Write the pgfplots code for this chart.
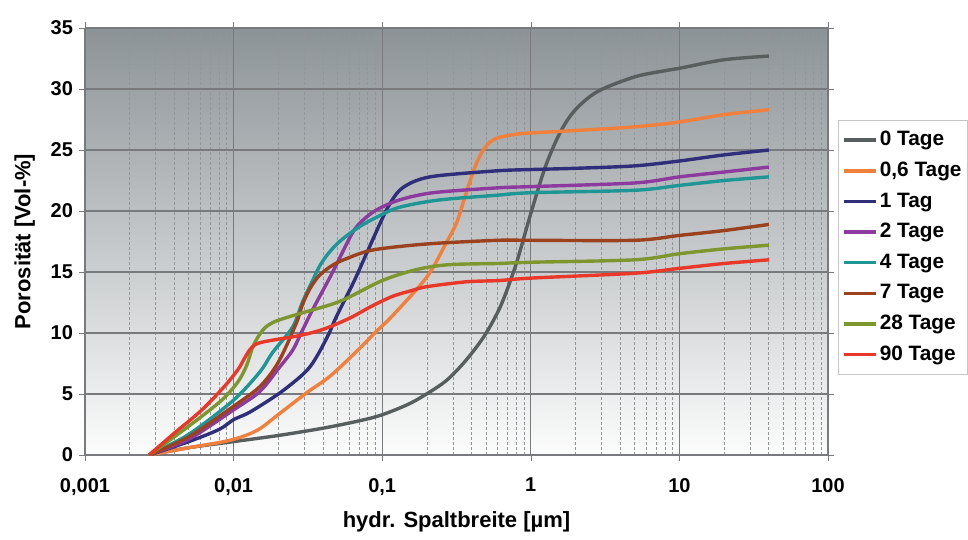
\documentclass[border=0pt]{standalone}
\usepackage{pgfplots}
\pgfplotsset{compat=1.18}
\usepackage{fontspec}
\setmainfont{Liberation Sans}

\definecolor{c0}{RGB}{88,94,94}
\definecolor{c06}{RGB}{240,128,60}
\definecolor{c1}{RGB}{46,46,122}
\definecolor{c2}{RGB}{140,58,158}
\definecolor{c4}{RGB}{30,150,150}
\definecolor{c7}{RGB}{155,65,30}
\definecolor{c28}{RGB}{125,150,45}
\definecolor{c90}{RGB}{232,56,42}
\definecolor{bgtop}{RGB}{140,147,151}
\definecolor{bgmid}{RGB}{208,212,215}
\definecolor{bgbot}{RGB}{252,252,252}
\definecolor{gridc}{RGB}{120,122,126}

\begin{document}
\begin{tikzpicture}
\begin{axis}[
  width=371.5pt, height=213.5pt, scale only axis,
  xmode=log, xmin=0.001, xmax=100, ymin=0, ymax=35,
  xtick={0.001,0.01,0.1,1,10,100},
  xticklabels={{0,001},{0,01},{0,1},1,10,100},
  ytick={0,5,...,35},
  xmajorgrids=true, ymajorgrids=true, xminorgrids=true,
  major grid style={gridc, line width=0.6pt},
  minor grid style={gridc!80, line width=0.4pt, dash pattern=on 1.5pt off 1pt},
  axis line style={gridc},
  tick align=outside, major tick length=3pt, minor tick length=0pt,
  tick style={gridc},
  axis background/.style={top color=bgtop, middle color=bgmid, bottom color=bgbot},
  ticklabel style={font=\bfseries\fontsize{10}{12}\selectfont},
  /pgf/number format/assume math mode=true,
  xticklabel style={yshift=-5pt},
  yticklabel style={xshift=0.5pt},
  xlabel={hydr. Spaltbreite [µm]},
  ylabel={Porosität [Vol-\%]},
  label style={font=\bfseries\fontsize{11}{13}\selectfont},
  xlabel style={at={(axis description cs:0.5,-0.157)}, anchor=center},
  ylabel style={at={(axis description cs:-0.081,0.5)}, anchor=center},
  legend style={at={(1.0135,0.7845)}, anchor=north west, draw=gray!45,
    fill=white, font=\bfseries\fontsize{10.4}{12}\selectfont,
    row sep=2.6pt, inner xsep=2pt, inner ysep=3.5pt,
    nodes={inner xsep=1pt, inner ysep=2pt}},
  legend cell align=left,
  legend image code/.code={\draw[#1] (0pt,0pt) -- (16pt,0pt);},
  every axis plot/.append style={line width=1.7pt, smooth, tension=0.5},
]
\addplot[c0] coordinates {
(0.0027,0) (0.005,0.6) (0.01,1.1) (0.02,1.6) (0.04,2.2) (0.07,2.8) (0.1,3.3)
(0.158,4.3) (0.251,5.8) (0.316,6.9) (0.398,8.3) (0.501,10.0) (0.631,12.3)
(0.794,15.6) (1,19.8) (1.259,23.7) (1.585,26.5) (1.995,28.3) (2.818,29.8)
(5.01,31.0) (8,31.5) (10,31.7) (20,32.4) (40,32.7)};
\addlegendentry{0 Tage}
\addplot[c06] coordinates {
(0.0027,0) (0.005,0.6) (0.0094,1.2) (0.0143,2.0) (0.0204,3.4) (0.031,5.1)
(0.045,6.5) (0.07,8.7) (0.089,10.0) (0.117,11.4) (0.2,14.6) (0.27,17.4)
(0.316,19.0) (0.355,20.9) (0.389,22.4) (0.427,23.8) (0.468,24.8) (0.525,25.6)
(0.603,26.0) (0.794,26.3) (1,26.4) (2,26.6) (5,26.9) (10,27.3) (20,27.9)
(40,28.3)};
\addlegendentry{0,6 Tage}
\addplot[c1] coordinates {
(0.0027,0) (0.005,1.1) (0.008,2.1) (0.01,2.9) (0.0128,3.5) (0.02,5.0)
(0.028,6.4) (0.033,7.3) (0.038,8.5) (0.044,10.0) (0.049,11.3) (0.065,14.3)
(0.079,16.6) (0.107,20.1) (0.131,21.7) (0.17,22.5) (0.24,22.9) (0.6,23.3)
(1,23.4) (2,23.5) (5,23.7) (10,24.1) (20,24.6) (40,25.0)};
\addlegendentry{1 Tag}
\addplot[c2] coordinates {
(0.0027,0) (0.005,1.3) (0.01,3.7) (0.015,5.2) (0.0204,7.2) (0.025,8.6)
(0.029,10.2) (0.034,11.9) (0.046,14.9) (0.063,18.2) (0.075,19.3) (0.092,20.1)
(0.13,20.9) (0.22,21.5) (0.6,21.9) (1,22.0) (5,22.3) (10,22.8) (20,23.2)
(40,23.6)};
\addlegendentry{2 Tage}
\addplot[c4] coordinates {
(0.0027,0) (0.005,1.7) (0.01,4.5) (0.015,6.8) (0.0183,8.4) (0.025,10.5)
(0.029,12.5) (0.034,14.3) (0.038,15.5) (0.042,16.3) (0.047,17.0) (0.054,17.7)
(0.07,18.7) (0.092,19.5) (0.13,20.3) (0.24,20.9) (0.6,21.3) (1,21.5) (5,21.7)
(10,22.1) (20,22.5) (40,22.8)};
\addlegendentry{4 Tage}
\addplot[c7] coordinates {
(0.0027,0) (0.005,1.5) (0.01,4.0) (0.015,5.6) (0.02,7.6) (0.0264,10.8)
(0.029,12.3) (0.0325,13.6) (0.037,14.6) (0.042,15.2) (0.047,15.6) (0.055,16.0)
(0.086,16.8) (0.2,17.3) (0.6,17.6) (1,17.6) (5,17.6) (10,18.0) (20,18.4)
(40,18.9)};
\addlegendentry{7 Tage}
\addplot[c28] coordinates {
(0.0027,0) (0.004,1.5) (0.006,3.1) (0.0085,4.6) (0.0107,6.0) (0.0122,7.3)
(0.0135,8.9) (0.015,9.9) (0.0165,10.5) (0.0195,11.0) (0.028,11.6) (0.052,12.6)
(0.1,14.3) (0.17,15.2) (0.28,15.6) (0.6,15.7) (1,15.8) (5,16.0) (10,16.5)
(20,16.9) (40,17.2)};
\addlegendentry{28 Tage}
\addplot[c90] coordinates {
(0.0027,0) (0.004,1.8) (0.006,3.6) (0.0085,5.5) (0.0107,7.0) (0.0118,7.9)
(0.0128,8.6) (0.0138,9.0) (0.015,9.2) (0.018,9.4) (0.028,9.8) (0.04,10.3)
(0.06,11.2) (0.085,12.2) (0.117,13.0) (0.16,13.5) (0.2,13.8) (0.37,14.2)
(0.61,14.3) (1,14.5) (5,14.9) (10,15.3) (20,15.7) (40,16.0)};
\addlegendentry{90 Tage}
\coordinate (bbl) at (rel axis cs:-0.1144,-0.1967);
\coordinate (btr) at (rel axis cs:1.1884,1.0656);
\end{axis}
\pgfresetboundingbox
\path[use as bounding box] (bbl) rectangle (btr);
\end{tikzpicture}
\end{document}
